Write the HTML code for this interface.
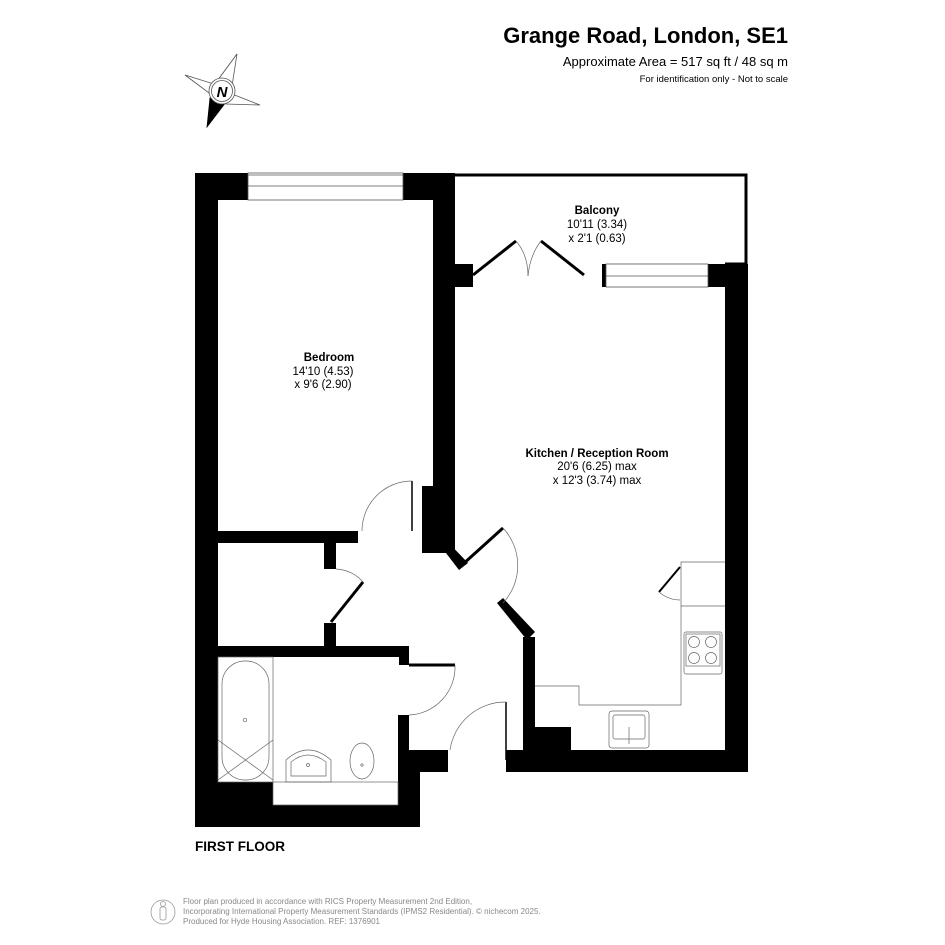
<!DOCTYPE html>
<html><head><meta charset="utf-8"><style>
html,body{margin:0;padding:0;background:#fff;}
svg{display:block;}
text{font-family:"Liberation Sans",Arial,sans-serif;}
</style></head><body>
<svg width="945" height="945" viewBox="0 0 945 945" xmlns="http://www.w3.org/2000/svg">
<!-- header -->
<text x="788" y="43" text-anchor="end" font-size="22" font-weight="bold">Grange Road, London, SE1</text>
<text x="788" y="66" text-anchor="end" font-size="13">Approximate Area = 517 sq ft / 48 sq m</text>
<text x="788" y="82" text-anchor="end" font-size="9.5">For identification only - Not to scale</text>
<!-- compass -->
<g stroke="#555" stroke-width="0.8" fill="#fff">
<polygon points="237,54 226,80 212,88"/>
<polygon points="237,54 232,86 212,88"/>
<polygon points="185,75 214,84 213,96"/>
<polygon points="260,105 232,94 226,104"/>
<polygon points="207,127 210,98 226,102" fill="#000" stroke="#000"/>
<circle cx="222" cy="91" r="13"/>
<circle cx="222" cy="91" r="10.5"/>
</g>
<text x="222" y="97" text-anchor="middle" font-size="15" font-weight="bold" font-style="italic">N</text>

<!-- walls -->
<g fill="#000">
<!-- left outer wall -->
<rect x="195" y="173" width="23" height="654"/>
<!-- top bedroom wall -->
<rect x="195" y="173" width="53" height="27"/>
<rect x="403" y="173" width="52" height="27"/>
<!-- bedroom/kitchen wall -->
<rect x="433" y="173" width="22" height="380"/>
<rect x="455" y="264" width="18" height="23"/>
<rect x="422" y="486" width="14" height="67"/>
<!-- balcony-right window blocks -->
<rect x="602" y="264" width="4" height="23"/>
<rect x="708" y="264" width="17" height="23"/>
<!-- kitchen right wall -->
<rect x="725" y="264" width="23" height="508"/>
<!-- bedroom bottom wall -->
<rect x="218" y="531" width="140" height="12"/>
<!-- cupboard wall -->
<rect x="324" y="543" width="12" height="26"/>
<rect x="324" y="623" width="12" height="23"/>
<!-- bathroom top wall -->
<rect x="218" y="646" width="191" height="11"/>
<rect x="399" y="657" width="10" height="8"/>
<!-- bathroom right wall -->
<rect x="398" y="715" width="11" height="90"/>
<rect x="409" y="750" width="11" height="77"/>
<rect x="409" y="750" width="39" height="22"/>
<!-- bottom -->
<rect x="195" y="805" width="225" height="22"/>
<rect x="218" y="782" width="55" height="23"/>
<!-- kitchen lower walls -->
<rect x="523" y="637" width="12" height="113"/>
<rect x="535" y="727" width="36" height="23"/>
<rect x="506" y="750" width="242" height="22"/>
<rect x="506" y="760" width="17" height="12"/>
</g>
<polygon points="436,540 444,538 468,563 459,570" fill="#000"/>
<polygon points="497,603 503,598 535,632 527,640" fill="#000"/>

<!-- windows -->
<g stroke="#555" stroke-width="0.8" fill="#fff">
<rect x="248" y="173" width="155" height="27"/>
<line x1="248" y1="186" x2="403" y2="186"/>
<line x1="248" y1="175" x2="403" y2="175"/>
<rect x="606" y="264" width="102" height="23"/>
<line x1="606" y1="276" x2="708" y2="276"/>
</g>
<!-- balcony outline -->
<g fill="none" stroke="#000">
<path d="M455 175 H746 V264 H725" stroke-width="3"/>
</g>
<!-- balcony doors -->
<g stroke="#000" stroke-width="3" fill="none">
<line x1="473" y1="275" x2="516" y2="241"/>
<line x1="541" y1="241" x2="584" y2="275"/>
<line x1="506" y1="702" x2="506" y2="760" stroke-width="1.5"/>
<line x1="412" y1="481" x2="412" y2="531" stroke-width="1.5"/>
<line x1="462" y1="565" x2="503" y2="528"/>
<line x1="331" y1="622" x2="363" y2="582"/>
<line x1="409" y1="665" x2="455" y2="665"/>
<line x1="680" y1="567" x2="659" y2="592" stroke-width="2"/>
</g>
<g stroke="#666" stroke-width="0.7" fill="none">
<path d="M516 241 Q528 255 528 276"/>
<path d="M541 241 Q530 255 528 276"/>
<path d="M412 481 A50 50 0 0 0 362 531"/>
<path d="M503 528 A55 55 0 0 1 503 603"/>
<path d="M336 569 A38 38 0 0 1 363 582"/>
<path d="M455 665 A48 48 0 0 1 409 715"/>
<path d="M506 702 A56 56 0 0 0 450 750"/>
<path d="M659 592 A33 33 0 0 0 680 600"/>
<!-- kitchen counter -->
<path d="M535 686 H579 V705 H681 V562 H725 M681 606 H725"/>
<!-- bath area -->
<rect x="218" y="657" width="55" height="125"/>
<rect x="222" y="661" width="47" height="119" rx="23"/>
<line x1="218" y1="740" x2="273" y2="780"/>
<line x1="273" y1="740" x2="218" y2="780"/>
<circle cx="245" cy="720" r="1.8"/>
<rect x="273" y="782" width="125" height="23"/>
<!-- sink bathroom -->
<path d="M286 782 V760 Q308 740 331 760 V782 Z"/>
<path d="M291 776 V762 Q308 748 326 762 V776 Z"/>
<circle cx="308" cy="765" r="1.5"/>
<!-- toilet -->
<ellipse cx="362" cy="761" rx="12" ry="18"/>
<circle cx="362" cy="765" r="1.2"/>
<!-- hob -->
<rect x="684" y="632" width="38" height="42" rx="2"/>
<rect x="686" y="634" width="34" height="32"/>
<circle cx="694" cy="642" r="5.5"/><circle cx="711" cy="642" r="5.5"/>
<circle cx="694" cy="658" r="5.5"/><circle cx="711" cy="658" r="5.5"/>
<!-- kitchen sink -->
<rect x="609" y="711" width="40" height="37" rx="3"/>
<rect x="613" y="715" width="32" height="24" rx="2"/>
<line x1="629" y1="727" x2="629" y2="744"/>
</g>

<!-- labels -->
<g font-size="11.5" text-anchor="middle">
<text x="329" y="361" font-weight="bold">Bedroom</text>
<text x="323" y="375">14'10 (4.53)</text>
<text x="323" y="388">x 9'6 (2.90)</text>
<text x="597" y="214" font-weight="bold">Balcony</text>
<text x="597" y="228">10'11 (3.34)</text>
<text x="597" y="242">x 2'1 (0.63)</text>
<text x="597" y="457" font-weight="bold">Kitchen / Reception Room</text>
<text x="597" y="470">20'6 (6.25) max</text>
<text x="597" y="484">x 12'3 (3.74) max</text>
</g>
<text x="195" y="851" font-size="13.5" font-weight="bold">FIRST FLOOR</text>

<!-- footer -->
<g fill="#888" font-size="8">
<text x="183" y="904">Floor plan produced in accordance with RICS Property Measurement 2nd Edition,</text>
<text x="183" y="914">Incorporating International Property Measurement Standards (IPMS2 Residential).   © nichecom 2025.</text>
<text x="183" y="924">Produced for Hyde Housing Association.  REF: 1376901</text>
</g>
<g stroke="#999" stroke-width="0.8" fill="none">
<circle cx="163" cy="912" r="12"/>
<circle cx="163" cy="904" r="2.5"/>
<rect x="160" y="907" width="6" height="13" rx="2"/>
</g>
</svg>
</body></html>
